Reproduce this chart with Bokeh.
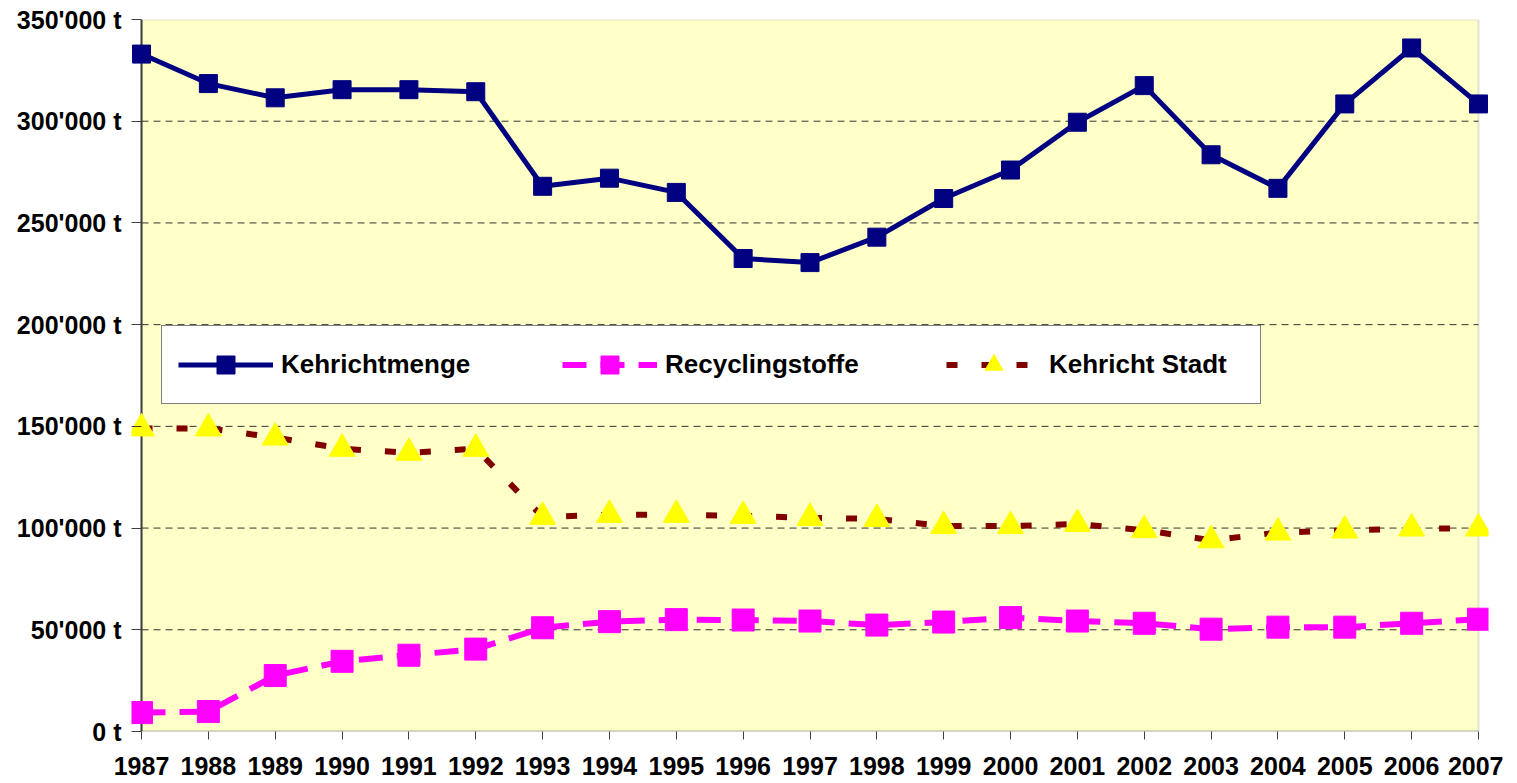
from bokeh.plotting import figure
from bokeh.models import Legend, LegendItem, FixedTicker, Range1d, BoxAnnotation, Span
from bokeh.embed import file_html
from bokeh.resources import INLINE

years = list(range(1987, 2008))
kehrichtmenge = [333000, 318500, 311500, 315500, 315500, 314500, 268000, 272000, 265000,
                 232500, 230500, 243000, 262000, 276000, 299500, 317500, 283500, 267000,
                 308500, 336000, 308500]
recyclingstoffe = [9300, 9800, 27500, 34500, 37500, 40500, 51000, 54000, 55000,
                   54800, 54300, 52300, 53800, 56000, 54300, 53200, 50300, 51300,
                   51300, 53200, 55200]
kehricht_stadt = [149000, 149000, 144500, 139000, 137000, 139000, 105500, 106500, 106500,
                  106000, 105000, 104500, 101000, 101000, 102000, 99000, 94000, 97800,
                  98800, 99800, 99800]
y_ticks = [0, 50000, 100000, 150000, 200000, 250000, 300000, 350000]
y_tick_labels = ["0 t", "50'000 t", "100'000 t", "150'000 t", "200'000 t",
                 "250'000 t", "300'000 t", "350'000 t"]
series_names = ["Kehrichtmenge", "Recyclingstoffe", "Kehricht Stadt"]

FONT = "Liberation Sans"
PAD = 0.15  # small room so that edge markers are not cut off

p = figure(frame_width=1357, frame_height=712,
           x_range=Range1d(years[0] - PAD, years[-1] + PAD),
           y_range=Range1d(y_ticks[0], y_ticks[-1]),
           output_backend="svg", toolbar_location=None,
           min_border_left=131, min_border_right=15, min_border_top=19, min_border_bottom=52)

p.background_fill_color = "white"
p.border_fill_color = "white"
p.outline_line_color = None
p.xgrid.visible = False
p.ygrid.visible = False

# plot area
plot_area = BoxAnnotation(left=years[0], right=years[-1], bottom=y_ticks[0], top=y_ticks[-1],
                          fill_color="#FFFFC8", fill_alpha=1.0,
                          line_color="#A0A0A0", line_width=2, level="underlay")
p.add_layout(plot_area)
left_axis = Span(location=years[0], dimension="height", line_color="#404040",
                 line_width=2, level="underlay")
p.add_layout(left_axis)
bottom_axis = BoxAnnotation(left=years[0], right=years[-1], bottom=y_ticks[0], top=y_ticks[0],
                            fill_alpha=0, line_color="#404040", line_width=2, level="underlay")
p.add_layout(bottom_axis)

# gridlines
grid_vals = y_ticks[1:-1]
p.segment(x0=[years[0]] * len(grid_vals), x1=[years[-1]] * len(grid_vals),
          y0=grid_vals, y1=grid_vals, line_color="#333333", line_dash="7 5", line_width=1)

# axes
p.xaxis.ticker = FixedTicker(ticks=years)
p.xaxis.major_label_overrides = {y: str(y) for y in years}
p.yaxis.ticker = FixedTicker(ticks=y_ticks)
p.yaxis.major_label_overrides = {t: l for t, l in zip(y_ticks, y_tick_labels)}
for ax in (p.xaxis[0], p.yaxis[0]):
    ax.axis_line_color = None
    ax.major_tick_line_color = "#404040"
    ax.major_tick_line_width = 1
    ax.minor_tick_line_color = None
    ax.major_label_text_font = FONT
    ax.major_label_text_font_style = "bold"
    ax.major_label_text_font_size = "25px"
    ax.major_label_text_color = "black"
p.xaxis.major_tick_in = 0
p.xaxis.major_tick_out = 8
p.xaxis.major_label_standoff = 17
p.yaxis.major_tick_in = 10
p.yaxis.major_tick_out = 0
p.yaxis.major_label_standoff = 10

r1l = p.line(years, kehrichtmenge, line_color="#000080", line_width=5)
r1m = p.scatter(years, kehrichtmenge, marker="square", size=18,
                fill_color="#000080", line_color="#000080")
r2l = p.line(years, recyclingstoffe, line_color="#FF00FF", line_width=6, line_dash="24 14")
r2m = p.scatter(years, recyclingstoffe, marker="square", size=22,
                fill_color="#FF00FF", line_color="#FF00FF")
r3l = p.line(years, kehricht_stadt, line_color="#800000", line_width=6, line_dash="11 24")
r3m = p.scatter(years, kehricht_stadt, marker="triangle", size=26,
                fill_color="#FFFF00", line_color="#FFFF00")

legend = Legend(items=[
    LegendItem(label=series_names[0], renderers=[r1l, r1m]),
    LegendItem(label=series_names[1], renderers=[r2l, r2m]),
    LegendItem(label=series_names[2], renderers=[r3l, r3m]),
], orientation="horizontal", location=(30, 327))
legend.glyph_width = 95
legend.glyph_height = 45
legend.label_width = 195
legend.label_height = 45
legend.label_standoff = 8
legend.spacing = 86
legend.padding = 16
legend.margin = 0
legend.label_text_font = FONT
legend.label_text_font_style = "bold"
legend.label_text_font_size = "26px"
legend.label_text_color = "black"
legend.border_line_color = "black"
legend.border_line_width = 1
legend.background_fill_color = "white"
legend.background_fill_alpha = 1.0
p.add_layout(legend, "center")

open("out.html", "w").write(file_html(p, INLINE))
